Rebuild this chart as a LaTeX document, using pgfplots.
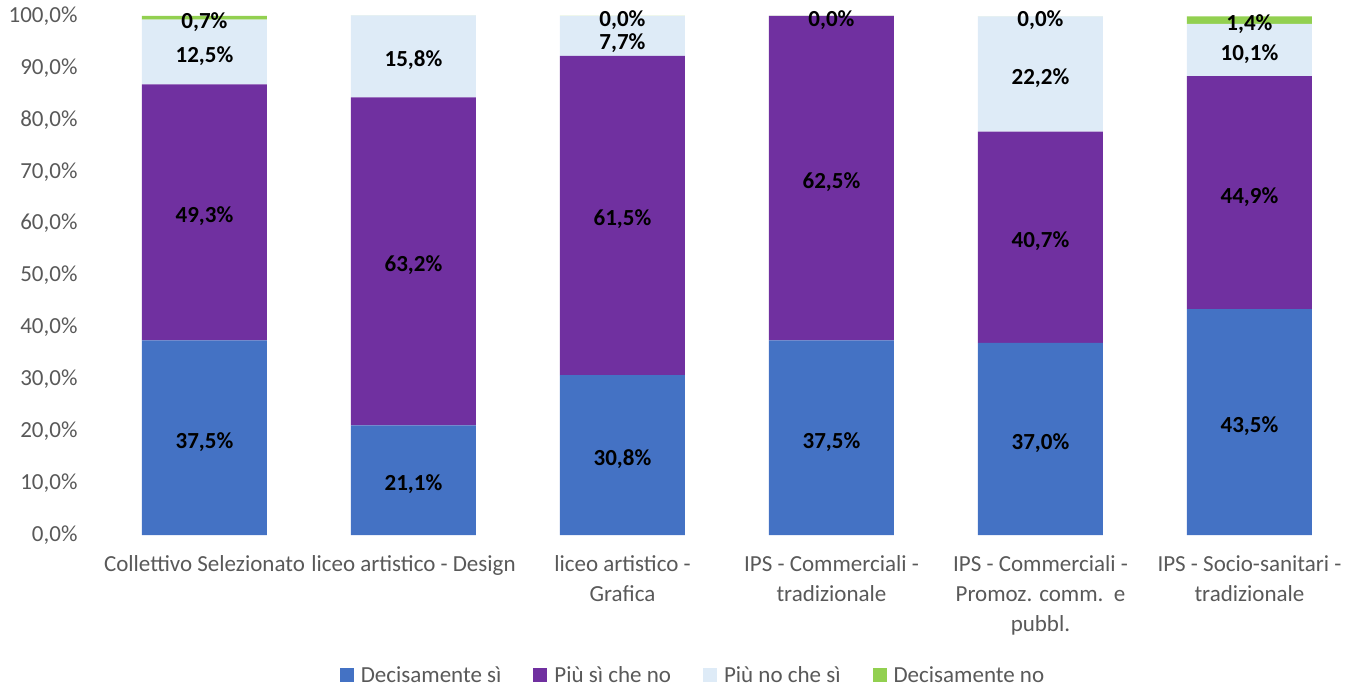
\documentclass[border=0pt]{standalone}
\usepackage{fontspec}
\setmainfont{Carlito}
\usepackage{pgfplots}
\pgfplotsset{compat=1.18}
\definecolor{cA}{HTML}{4472C4}
\definecolor{cB}{HTML}{7030A0}
\definecolor{cC}{HTML}{DEEBF7}
\definecolor{cD}{HTML}{92D050}
\definecolor{txt}{HTML}{595959}
\begin{document}
\begin{tikzpicture}
\useasboundingbox (-100bp,-153bp) rectangle (1259bp,535bp);
\begin{axis}[
  at={(0,0)}, anchor=south west,
  scale only axis, width=1254bp, height=519.8bp,
  ybar stacked, bar width=125bp,
  xmin=-0.5, xmax=5.5, ymin=0, ymax=100.15,
  axis line style={draw=none}, tick style={draw=none},
  font=\fontsize{23bp}{30bp}\selectfont,
  ytick={0,10,...,100},
  yticklabel={\pgfmathprintnumber[fixed,fixed zerofill,precision=1,use comma]{\tick}\%},
  /pgf/number format/assume math mode=true,
  yticklabel style={text=txt, xshift=-19bp},
  xtick={0,1,2,3,4,5},
  xticklabels={{Collettivo Selezionato},{liceo artistico - Design},{liceo artistico -\\Grafica},{IPS - Commerciali -\\tradizionale},{IPS - Commerciali -\\Promoz. comm.\ \ e\\pubbl.},{IPS - Socio-sanitari -\\tradizionale}},
  xticklabel style={align=center, text=txt, yshift=-17bp},
  point meta=explicit symbolic,
  nodes near coords={\pgfplotspointmeta},
  every node near coord/.append style={anchor=center, yshift=-4bp, inner sep=1bp, font=\fontsize{23bp}{26bp}\selectfont\bfseries, text=black},
  legend style={draw=none, at={(axis description cs:0.5,0)}, yshift=-140bp, xshift=-34bp, anchor=center, legend columns=4, font=\fontsize{23bp}{26bp}\selectfont, text=txt,
    /tikz/every even column/.append style={column sep=30bp}},
  legend image code/.code={\fill[#1] (0bp,-7bp) rectangle (14bp,7bp); \path (19bp,0bp);},
]
\addplot[fill=cA, draw=none] coordinates {(0,37.5)[37,5\%] (1,21.1)[21,1\%] (2,30.8)[30,8\%] (3,37.5)[37,5\%] (4,37.0)[37,0\%] (5,43.5)[43,5\%]};
\addplot[fill=cB, draw=none] coordinates {(0,49.3)[49,3\%] (1,63.2)[63,2\%] (2,61.5)[61,5\%] (3,62.5)[62,5\%] (4,40.7)[40,7\%] (5,44.9)[44,9\%]};
\addplot[fill=cC, draw=none, visualization depends on=x \as \xv,
  every node near coord/.append style={yshift={-3bp*(\xv==2)}}]
  coordinates {(0,12.5)[12,5\%] (1,15.8)[15,8\%] (2,7.7)[7,7\%] (3,0.001)[0,0\%] (4,22.2)[22,2\%] (5,10.1)[10,1\%]};
\addplot[fill=cD, draw=none] coordinates {(0,0.7)[0,7\%] (1,0.001)[\relax] (2,0.001)[0,0\%] (3,0.001)[\relax] (4,0.001)[0,0\%] (5,1.4)[1,4\%]};
\legend{Decisamente sì, Più sì che no, Più no che sì, Decisamente no}
\end{axis}
\end{tikzpicture}
\end{document}
